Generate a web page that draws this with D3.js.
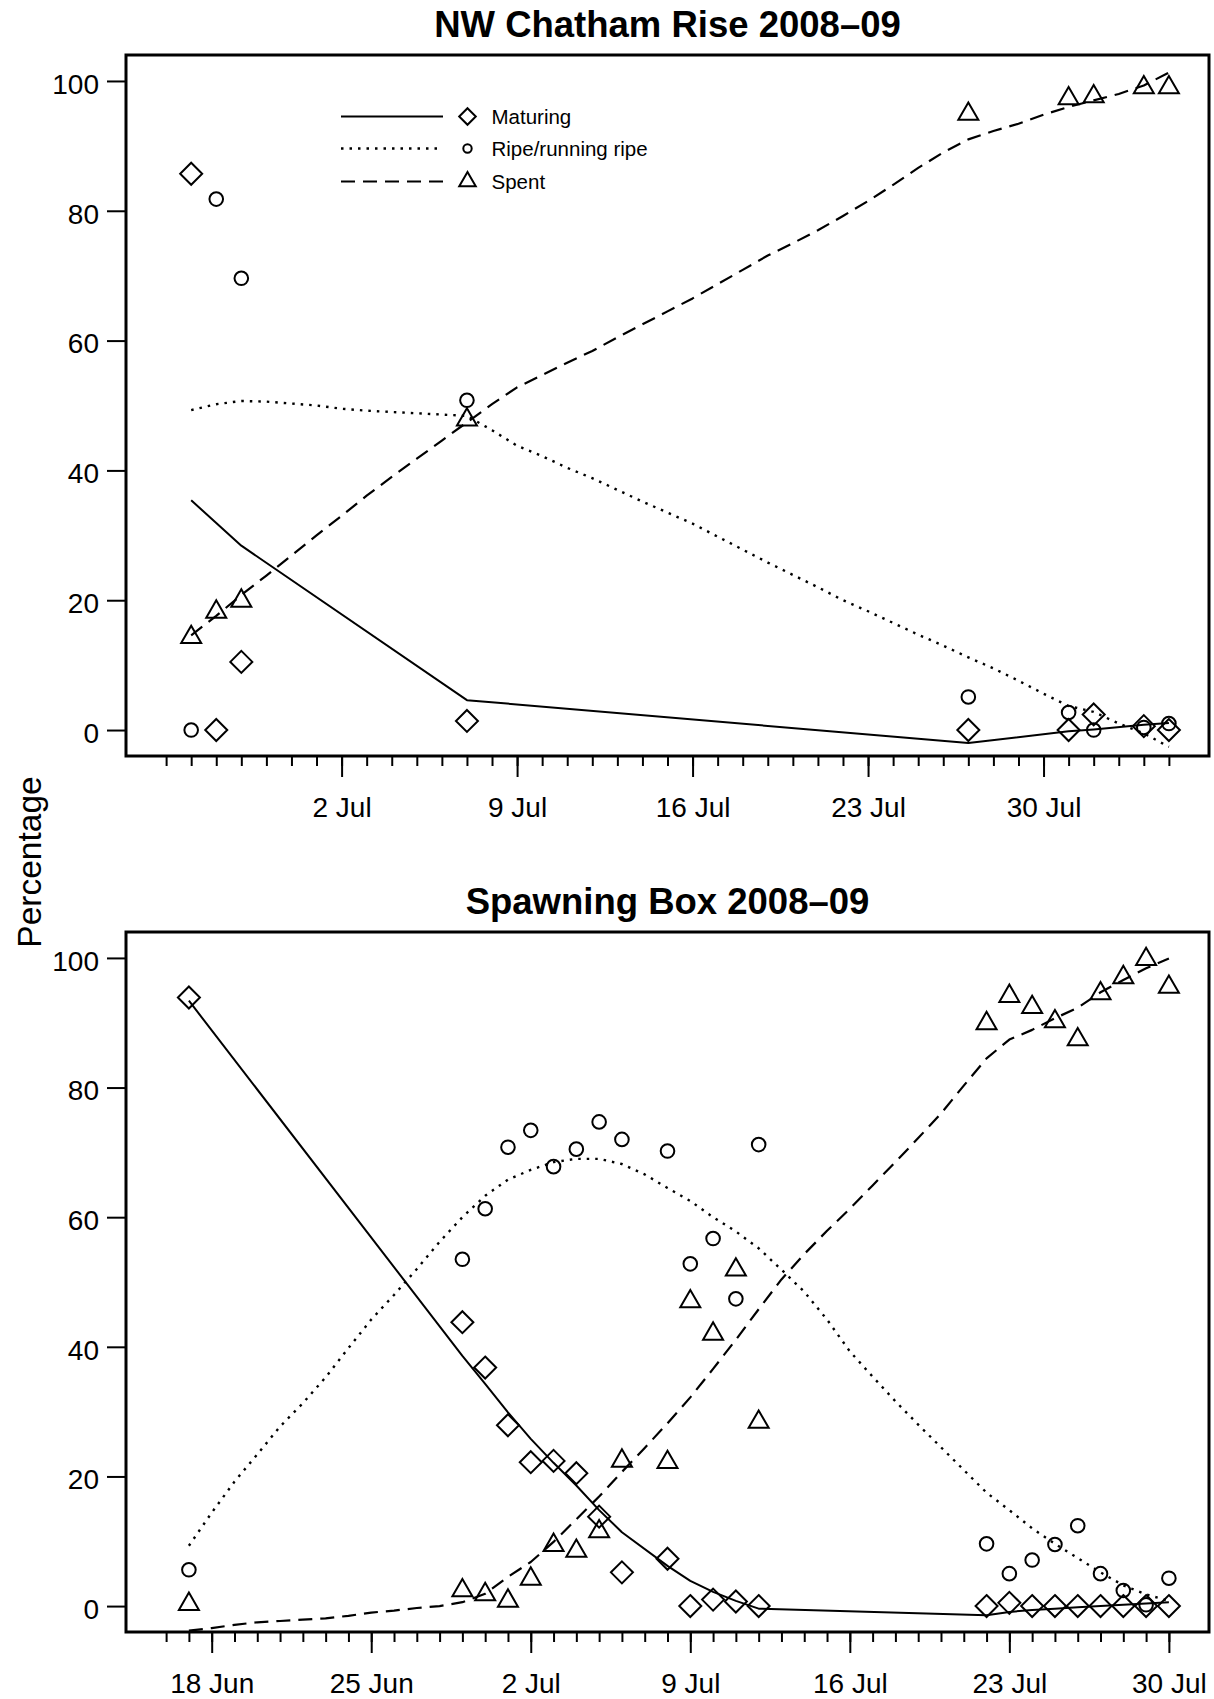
<!DOCTYPE html>
<html>
<head>
<meta charset="utf-8">
<script src="https://cdn.jsdelivr.net/npm/d3@7/dist/d3.min.js"></script>
<style>
  body { margin: 0; background: #fff; }
  text { font-family: "Liberation Sans", Arial, Helvetica, sans-serif; fill: #000; }
</style>
</head>
<body>
<div id="chart"></div>
<script>
// ---- NW Chatham Rise: sample dates and observed percentages ----
const nwDates = ["2008-06-26", "2008-06-27", "2008-06-28", "2008-07-07", "2008-07-27",
                 "2008-07-31", "2008-08-01", "2008-08-03", "2008-08-04"];
const nwMaturing = [85.7, 0, 10.5, 1.4, 0, 0, 2.4, 0.6, 0];
const nwRipe = [0, 81.8, 69.6, 50.8, 5.1, 2.7, 0, 0.4, 1.0];
const nwSpent = [14.3, 18.2, 19.9, 47.8, 94.9, 97.3, 97.6, 99.0, 99.0];
// fitted maturing, at the sample dates
const nwMaturingFit = [35.4, 31.9, 28.4, 4.6, -2.0, -0.2, 0.1, 0.8, 1.1];
// fitted ripe and spent, one value per day 26 Jun .. 4 Aug
const nwCurveStart = "2008-06-26", nwCurveEnd = "2008-08-04";
const nwRipeFit = [49.3, 50.2, 50.7, 50.6, 50.3,
  50.0, 49.5, 49.2, 49.0, 48.8, 48.6, 48.4, 46.2, 43.8, 42.2, 40.4, 38.8, 37.0, 35.2, 33.5, 31.8,
  29.8, 27.8, 25.8, 23.9, 22.0, 20.0, 18.3, 16.5, 14.7, 13.0, 11.2, 9.5, 7.6, 5.6, 3.7,
  2.8, 1.0, -0.5, -2.6];
const nwSpentFit = [14.6, 17.6, 20.8, 23.8, 26.9,
  30.0, 33.0, 36.1, 39.0, 41.8, 44.6, 47.4, 50.2, 52.8, 54.7, 56.6, 58.4, 60.5, 62.5, 64.5, 66.5,
  68.7, 70.9, 73.1, 75.0, 77.0, 79.2, 81.5, 84.0, 86.6, 89.0, 91.0, 92.3, 93.4, 94.8, 96.0,
  97.0, 98.0, 99.3, 101.3];
const nwTickRange = ["2008-06-25", "2008-08-04"];
const nwLabelTicks = ["2008-07-02", "2008-07-09", "2008-07-16", "2008-07-23", "2008-07-30"];

// ---- Spawning Box ----
const sbDates = ["2008-06-17", "2008-06-29", "2008-06-30", "2008-07-01", "2008-07-02", "2008-07-03",
                 "2008-07-04", "2008-07-05", "2008-07-06", "2008-07-08", "2008-07-09", "2008-07-10",
                 "2008-07-11", "2008-07-12", "2008-07-22", "2008-07-23", "2008-07-24", "2008-07-25",
                 "2008-07-26", "2008-07-27", "2008-07-28", "2008-07-29", "2008-07-30"];
const sbMaturing = [93.9, 43.8, 36.8, 27.9, 22.2, 22.4, 20.5, 13.8, 5.2, 7.3, 0, 1.0, 0.7, 0,
                    0, 0.5, 0, 0, 0, 0, 0, 0, 0];
const sbRipe = [5.6, 53.5, 61.3, 70.8, 73.4, 67.8, 70.5, 74.7, 72.0, 70.2, 52.8, 56.7, 47.4, 71.2,
                9.6, 5.0, 7.1, 9.5, 12.4, 5.0, 2.4, 0.2, 4.3];
const sbSpent = [0.3, 2.4, 1.8, 0.8, 4.2, 9.4, 8.5, 11.5, 22.4, 22.2, 47.0, 42.0, 51.9, 28.4,
                 89.9, 94.1, 92.4, 90.2, 87.4, 94.5, 97.0, 99.8, 95.5];
const sbMaturingFit = [93.4, 38.6, 34.3, 29.9, 25.8, 22.1, 18.6, 14.8, 11.4, 6.2, 3.9, 2.2, 0.8, -0.4,
                       -1.4, -0.9, -0.6, -0.4, -0.2, 0.0, 0.2, 0.4, 0.6];
const sbCurveStart = "2008-06-17", sbCurveEnd = "2008-07-30";
const sbRipeFit = [9.3, 14.4, 19.2, 23.4, 27.7, 31.3, 35.3, 39.8, 44.2, 48.0, 52.0, 56.2, 60.0, 63.3,
  65.8, 67.3, 68.5, 69.0, 69.0, 68.2, 66.6, 64.5, 62.5, 60.0, 57.8, 55.2, 51.9, 48.5, 44.2,
  39.3, 35.4, 31.6, 28.0, 24.5, 21.0, 17.5, 14.8, 12.0, 9.6, 7.4, 5.2, 3.2, 1.8, 0.8];
const sbSpentFit = [-3.8, -3.4, -2.9, -2.5, -2.3, -2.1, -1.9, -1.5, -1.0, -0.7, -0.3, 0.0, 0.6, 1.9,
  4.5, 6.8, 9.9, 13.4, 16.9, 20.7, 24.4, 28.2, 32.2, 36.6, 41.1, 45.8, 50.4, 54.3, 57.9,
  61.3, 64.9, 68.5, 72.2, 76.0, 80.3, 84.5, 87.4, 88.9, 90.7, 92.3, 94.7, 96.6, 98.4, 99.9];
const sbTickRange = ["2008-06-16", "2008-07-30"];
const sbLabelTicks = ["2008-06-18", "2008-06-25", "2008-07-02", "2008-07-09", "2008-07-16",
                      "2008-07-23", "2008-07-30"];

const yTicks = [0, 20, 40, 60, 80, 100];
const stageNames = ["Maturing", "Ripe/running ripe", "Spent"];

const W = 1214, H = 1699;
const parse = d3.utcParse("%Y-%m-%d");
const fmt = d3.utcFormat("%-d %b");

const svg = d3.select("#chart").append("svg")
  .attr("width", W).attr("height", H)
  .style("background", "#fff");

// marker shapes (R pch 5, 1, 2)
const diamond = (h) => `M0,${-h}L${h},0L0,${h}L${-h},0Z`;
const triangle = (s) => {
  const t = s / Math.sqrt(3);
  return `M0,${-t}L${s / 2},${t / 2}L${-s / 2},${t / 2}Z`;
};
const lineStyle = {
  solid: { dash: null, width: 2 },
  dotted: { dash: "2.5,6", width: 2.4 },
  dashed: { dash: "14,8", width: 2.2 }
};

function drawPanel(cfg) {
  const left = 126, right = 1209;
  const g = svg.append("g");

  // R style 4% extension round the tick range
  const t0 = parse(cfg.tickRange[0]), t1 = parse(cfg.tickRange[1]);
  const pad = (t1 - t0) * 0.04;
  const x = d3.scaleUtc()
    .domain([new Date(+t0 - pad), new Date(+t1 + pad)])
    .range([left, right]);
  const y = d3.scaleLinear().domain([-4, 104]).range([cfg.bottom, cfg.top]);

  const clipId = "clip" + cfg.top;
  svg.append("clipPath").attr("id", clipId)
    .append("rect").attr("x", left).attr("y", cfg.top)
    .attr("width", right - left).attr("height", cfg.bottom - cfg.top);

  // axes
  const minor = d3.utcDay.range(t0, d3.utcDay.offset(t1, 1));
  g.append("g")
    .attr("transform", `translate(0,${cfg.bottom})`)
    .call(d3.axisBottom(x).tickValues(minor).tickSize(10).tickFormat(""))
    .call(a => a.select(".domain").remove())
    .call(a => a.selectAll("line").attr("stroke-width", 2));

  g.append("g")
    .attr("transform", `translate(0,${cfg.bottom})`)
    .call(d3.axisBottom(x).tickValues(cfg.labelTicks.map(parse)).tickSize(21).tickPadding(20).tickFormat(fmt))
    .call(a => a.select(".domain").remove())
    .call(a => a.selectAll("line").attr("stroke-width", 2))
    .call(a => a.selectAll("text").attr("font-size", 28).attr("font-family", null));

  g.append("g")
    .attr("transform", `translate(${left},0)`)
    .call(d3.axisLeft(y).tickValues(yTicks).tickSize(19).tickPadding(8))
    .call(a => a.select(".domain").remove())
    .call(a => a.selectAll("line").attr("stroke-width", 2))
    .call(a => a.selectAll("text").attr("font-size", 28).attr("font-family", null).attr("dy", "0.44em"));

  // box
  g.append("rect")
    .attr("x", left).attr("y", cfg.top)
    .attr("width", right - left).attr("height", cfg.bottom - cfg.top)
    .attr("fill", "none").attr("stroke", "#000").attr("stroke-width", 3);

  // title
  g.append("text")
    .attr("x", (left + right) / 2).attr("y", cfg.top - 18)
    .attr("text-anchor", "middle")
    .attr("font-size", 36.5).attr("font-weight", "bold")
    .text(cfg.title);

  // fitted lines
  const days = d3.utcDay.range(parse(cfg.curveStart), d3.utcDay.offset(parse(cfg.curveEnd), 1));
  const dates = cfg.dates.map(parse);
  const line = d3.line().x(d => x(d[0])).y(d => y(d[1]));
  const fits = [
    { pts: dates.map((d, i) => [d, cfg.maturingFit[i]]), style: lineStyle.solid },
    { pts: days.map((d, i) => [d, cfg.ripeFit[i]]), style: lineStyle.dotted },
    { pts: days.map((d, i) => [d, cfg.spentFit[i]]), style: lineStyle.dashed }
  ];
  const lines = g.append("g").attr("clip-path", `url(#${clipId})`);
  fits.forEach(f => {
    lines.append("path")
      .attr("d", line(f.pts))
      .attr("fill", "none").attr("stroke", "#000")
      .attr("stroke-width", f.style.width)
      .attr("stroke-dasharray", f.style.dash)
      .attr("stroke-linejoin", "round");
  });

  // observed points
  const pts = g.append("g").attr("fill", "none").attr("stroke", "#000").attr("stroke-width", 2);
  pts.selectAll(".mat").data(dates.map((d, i) => [d, cfg.maturing[i]]))
    .enter().append("path")
    .attr("transform", d => `translate(${x(d[0])},${y(d[1])})`)
    .attr("d", diamond(11));
  pts.selectAll(".ripe").data(dates.map((d, i) => [d, cfg.ripe[i]]))
    .enter().append("circle")
    .attr("cx", d => x(d[0])).attr("cy", d => y(d[1])).attr("r", 6.8);
  pts.selectAll(".spent").data(dates.map((d, i) => [d, cfg.spent[i]]))
    .enter().append("path")
    .attr("transform", d => `translate(${x(d[0])},${y(d[1])})`)
    .attr("d", triangle(20));

  if (cfg.legend) {
    const lg = g.append("g");
    const rows = [116.5, 148.5, 181.5];
    const styles = [lineStyle.solid, lineStyle.dotted, lineStyle.dashed];
    stageNames.forEach((name, i) => {
      lg.append("line")
        .attr("x1", 341).attr("x2", 443).attr("y1", rows[i]).attr("y2", rows[i])
        .attr("stroke", "#000").attr("stroke-width", styles[i].width)
        .attr("stroke-dasharray", styles[i].dash);
      const sym = lg.append("g").attr("transform", `translate(467.5,${rows[i]})`)
        .attr("fill", "none").attr("stroke", "#000").attr("stroke-width", 2);
      if (i === 0) sym.append("path").attr("d", diamond(8.3));
      if (i === 1) sym.append("circle").attr("r", 4.2);
      if (i === 2) sym.append("path").attr("d", triangle(16.5));
      lg.append("text")
        .attr("x", 491.5).attr("y", rows[i] + 7.5)
        .attr("font-size", 20.5)
        .text(name);
    });
  }
}

drawPanel({
  title: "NW Chatham Rise 2008\u201309",
  top: 55, bottom: 756,
  dates: nwDates, maturing: nwMaturing, ripe: nwRipe, spent: nwSpent,
  maturingFit: nwMaturingFit, ripeFit: nwRipeFit, spentFit: nwSpentFit,
  curveStart: nwCurveStart, curveEnd: nwCurveEnd,
  tickRange: nwTickRange, labelTicks: nwLabelTicks,
  legend: true
});

drawPanel({
  title: "Spawning Box 2008\u201309",
  top: 932, bottom: 1632,
  dates: sbDates, maturing: sbMaturing, ripe: sbRipe, spent: sbSpent,
  maturingFit: sbMaturingFit, ripeFit: sbRipeFit, spentFit: sbSpentFit,
  curveStart: sbCurveStart, curveEnd: sbCurveEnd,
  tickRange: sbTickRange, labelTicks: sbLabelTicks,
  legend: false
});

// shared y axis title
svg.append("text")
  .attr("transform", "translate(41,862) rotate(-90)")
  .attr("text-anchor", "middle")
  .attr("font-size", 33.5)
  .text("Percentage");
</script>
</body>
</html>
